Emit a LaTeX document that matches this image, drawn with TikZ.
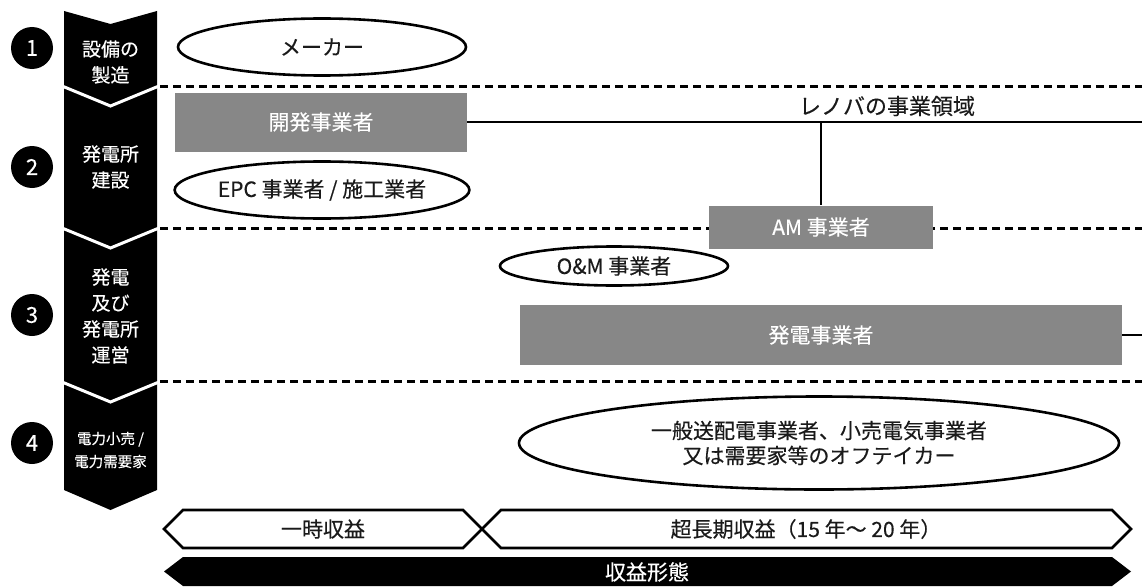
\documentclass[tikz,border=0pt]{standalone}
\usepackage{fontspec}
\setmainfont{Noto Sans CJK JP}[FakeBold=0.3]
\usetikzlibrary{shapes.geometric}
\definecolor{boxgray}{HTML}{878787}
\definecolor{inkc}{HTML}{1A1A1A}
\tikzset{
  lbl/.style={font=\fontsize{21}{25}\selectfont, inner sep=0pt, text=inkc, align=center},
  oval/.style={ellipse, draw=black, line width=2.6pt, fill=white, lbl},
  graybox/.style={rectangle, fill=boxgray, lbl, text=white},
  sepline/.style={draw=white, line width=3pt},
  divider/.style={draw=black, line width=3pt, dash pattern=on 8pt off 5pt},
  conn/.style={draw=black, line width=2.6pt},
  num/.style={circle, fill=black, text=white, minimum size=42pt, inner sep=0pt, font=\fontsize{22}{22}\selectfont},
  steptext/.style={text=white, align=center, font=\fontsize{19}{26}\selectfont, inner sep=0pt},
  band/.style={draw=black, line width=2.6pt, fill=white, line join=miter},
}
\begin{document}
\begin{tikzpicture}[x=1pt,y=-1pt]
\useasboundingbox (0,0) rectangle (1142,586);

% phase dividers
\coordinate (d1a) at (160,86);  \coordinate (d1b) at (1142,86);
\coordinate (d2a) at (160,228); \coordinate (d2b) at (1142,228);
\coordinate (d3a) at (160,381); \coordinate (d3b) at (1142,381);
\draw[divider] (d1a) -- (d1b);
\draw[divider] (d2a) -- (d2b);
\draw[divider] (d3a) -- (d3b);

% phase column
\fill[black] (64,11) -- (110.5,24) -- (157,11) -- (157,490) -- (110.5,510) -- (64,490) -- cycle;
\draw[sepline] (62,86) -- (110.5,106) -- (159,86);
\draw[sepline] (62,228) -- (110.5,248) -- (159,228);
\draw[sepline] (62,382) -- (110.5,402) -- (159,382);

\node[steptext] (s1) at (110.5,62) {設備の\\製造};
\node[steptext] (s2) at (110.5,167) {発電所\\建設};
\node[steptext] (s3) at (110.5,316) {発電\\及び\\発電所\\運営};
\node[steptext, font=\fontsize{14.5}{23}\selectfont] (s4) at (110.5,450) {電力小売 /\\電力需要家};

\node[num] (n1) at (32,48) {1};
\node[num] (n2) at (32,167) {2};
\node[num] (n3) at (32,315) {3};
\node[num] (n4) at (32,443) {4};

% actors
\node[oval, minimum width=288pt, minimum height=57pt] (maker) at (322,47) {メーカー};
\node[graybox, minimum width=292pt, minimum height=59pt] (dev) at (321,122) {開発事業者};
\node[oval, minimum width=288pt, minimum height=57pt] (epc) at (322,190) {EPC 事業者 / 施工業者};
\node[graybox, minimum width=224pt, minimum height=43pt] (am) at (821,227) {AM 事業者};
\node[oval, minimum width=228pt, minimum height=39pt] (om) at (614,266) {O\&M 事業者};
\node[graybox, minimum width=602pt, minimum height=60pt] (gen) at (821,335) {発電事業者};
\node[oval, minimum width=600pt, minimum height=93pt] (offt) at (819,443) {一般送配電事業者、小売電気事業者\\又は需要家等のオフテイカー};

% renova scope
\coordinate (rend) at (1142,122);
\draw[conn] (dev.east) -- (rend);
\node[lbl, font=\fontsize{22}{22}\selectfont] (renova) at (887,106) {レノバの事業領域};
\coordinate (junc) at (am.north |- dev.east);
\draw[conn] (junc) -- (am.north);
\coordinate (gend) at (1142,335);
\draw[conn] (gen.east) -- (gend);

% revenue bands
\draw[band] (183,510) -- (463,510) -- (482,529) -- (463,548) -- (183,548) -- (164,529) -- cycle;
\draw[band] (501,510) -- (1112,510) -- (1131,529) -- (1112,548) -- (501,548) -- (482,529) -- cycle;
\node[lbl] (r1) at (323,529) {一時収益};
\node[lbl] (r2) at (806,529) {超長期収益（15 年～ 20 年）};
\fill[black] (183,557) -- (1112,557) -- (1131,571.5) -- (1112,586) -- (183,586) -- (164,571.5) -- cycle;
\node[lbl, text=white] (rtype) at (647,572) {収益形態};
\end{tikzpicture}
\end{document}
